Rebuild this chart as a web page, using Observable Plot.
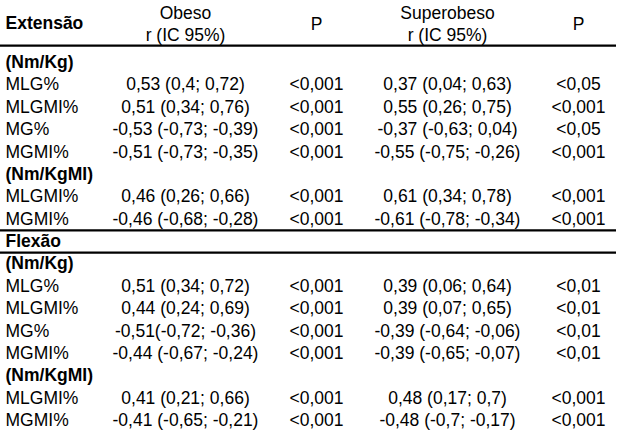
<!DOCTYPE html>
<html><head><meta charset="utf-8">
<script src="https://cdn.jsdelivr.net/npm/d3@7"></script>
<script src="https://cdn.jsdelivr.net/npm/@observablehq/plot@0.6"></script>
<style>html,body{margin:0;padding:0;background:#fff} svg{display:block}</style>
</head><body><div id="chart"></div>
<script>
// ---- data ----
const columns = ["Obeso", "P1", "Superobeso", "P2"];
const headerTexts = ["Obeso\nr (IC 95%)", "P", "Superobeso\nr (IC 95%)", "P"];
const sections = ["Extensão", "Flexão"];
const rowLabels = ["(Nm/Kg)", "MLG%", "MLGMI%", "MG%", "MGMI%", "(Nm/KgMI)", "MLGMI%", "MGMI%"];
const boldLabels = ["(Nm/Kg)", "(Nm/KgMI)"];

const obesoExt = ["", "0,53 (0,4; 0,72)", "0,51 (0,34; 0,76)", "-0,53 (-0,73; -0,39)", "-0,51 (-0,73; -0,35)", "", "0,46 (0,26; 0,66)", "-0,46 (-0,68; -0,28)"];
const pObesoExt = ["", "<0,001", "<0,001", "<0,001", "<0,001", "", "<0,001", "<0,001"];
const superExt = ["", "0,37 (0,04; 0,63)", "0,55 (0,26; 0,75)", "-0,37 (-0,63; 0,04)", "-0,55 (-0,75; -0,26)", "", "0,61 (0,34; 0,78)", "-0,61 (-0,78; -0,34)"];
const pSuperExt = ["", "<0,05", "<0,001", "<0,05", "<0,001", "", "<0,001", "<0,001"];

const obesoFlex = ["", "0,51 (0,34; 0,72)", "0,44 (0,24; 0,69)", "-0,51(-0,72; -0,36)", "-0,44 (-0,67; -0,24)", "", "0,41 (0,21; 0,66)", "-0,41 (-0,65; -0,21)"];
const pObesoFlex = ["", "<0,001", "<0,001", "<0,001", "<0,001", "", "<0,001", "<0,001"];
const superFlex = ["", "0,39 (0,06; 0,64)", "0,39 (0,07; 0,65)", "-0,39 (-0,64; -0,06)", "-0,39 (-0,65; -0,07)", "", "0,48 (0,17; 0,7)", "-0,48 (-0,7; -0,17)"];
const pSuperFlex = ["", "<0,01", "<0,01", "<0,01", "<0,01", "", "<0,001", "<0,001"];

// ---- build table cells ----
const blocks = [
  [obesoExt, pObesoExt, superExt, pSuperExt],
  [obesoFlex, pObesoFlex, superFlex, pSuperFlex]
];
const n = rowLabels.length;
const headerRow = -1.75;
const labelCells = [];
const valueCells = [];
const sectionCells = [{row: headerRow, text: sections[0]}];
blocks.forEach((block, b) => {
  const offset = b * (n + 1);
  if (b > 0) sectionCells.push({row: offset - 1, text: sections[b]});
  rowLabels.forEach((lab, i) => {
    labelCells.push({row: offset + i, text: lab, bold: boldLabels.includes(lab)});
    block.forEach((col, c) => {
      if (col[i]) valueCells.push({row: offset + i, col: columns[c], text: col[i]});
    });
  });
});
const headerCells = columns.map((c, i) => ({row: headerRow, col: c, text: headerTexts[i]}));
const flexRow = n;
const rules = [headerRow + 1, flexRow - 0.5, flexRow + 0.5];
const lastRow = 2 * n;

const font = "'Liberation Sans', Arial, Helvetica, sans-serif";
const fs = 17.5;

const chart = Plot.plot({
  width: 624,
  height: 433,
  marginTop: 0, marginBottom: 0, marginLeft: 0, marginRight: 8,
  style: {fontFamily: font, fontSize: fs + "px", background: "#fff", color: "#000"},
  x: {type: "point", domain: columns, range: [185, 578], padding: 0, axis: null},
  y: {type: "linear", domain: [0, lastRow], range: [62, 420], axis: null},
  marks: [
    Plot.ruleY(rules, {stroke: "#000", strokeWidth: 2.2}),
    Plot.text(headerCells, {x: "col", y: "row", text: "text", fontSize: fs, lineHeight: 1.25, fill: "#000"}),
    Plot.text(sectionCells, {y: "row", text: "text", frameAnchor: "left", textAnchor: "start", dx: 5, fontSize: fs, fontWeight: "bold", fill: "#000"}),
    Plot.text(labelCells.filter(d => d.bold), {y: "row", text: "text", frameAnchor: "left", textAnchor: "start", dx: 5, fontSize: fs, fontWeight: "bold", fill: "#000"}),
    Plot.text(labelCells.filter(d => !d.bold), {y: "row", text: "text", frameAnchor: "left", textAnchor: "start", dx: 5, fontSize: fs, fill: "#000"}),
    Plot.text(valueCells, {x: "col", y: "row", text: "text", fontSize: fs, fill: "#000"})
  ]
});
document.getElementById("chart").appendChild(chart);
</script>
</body></html>
